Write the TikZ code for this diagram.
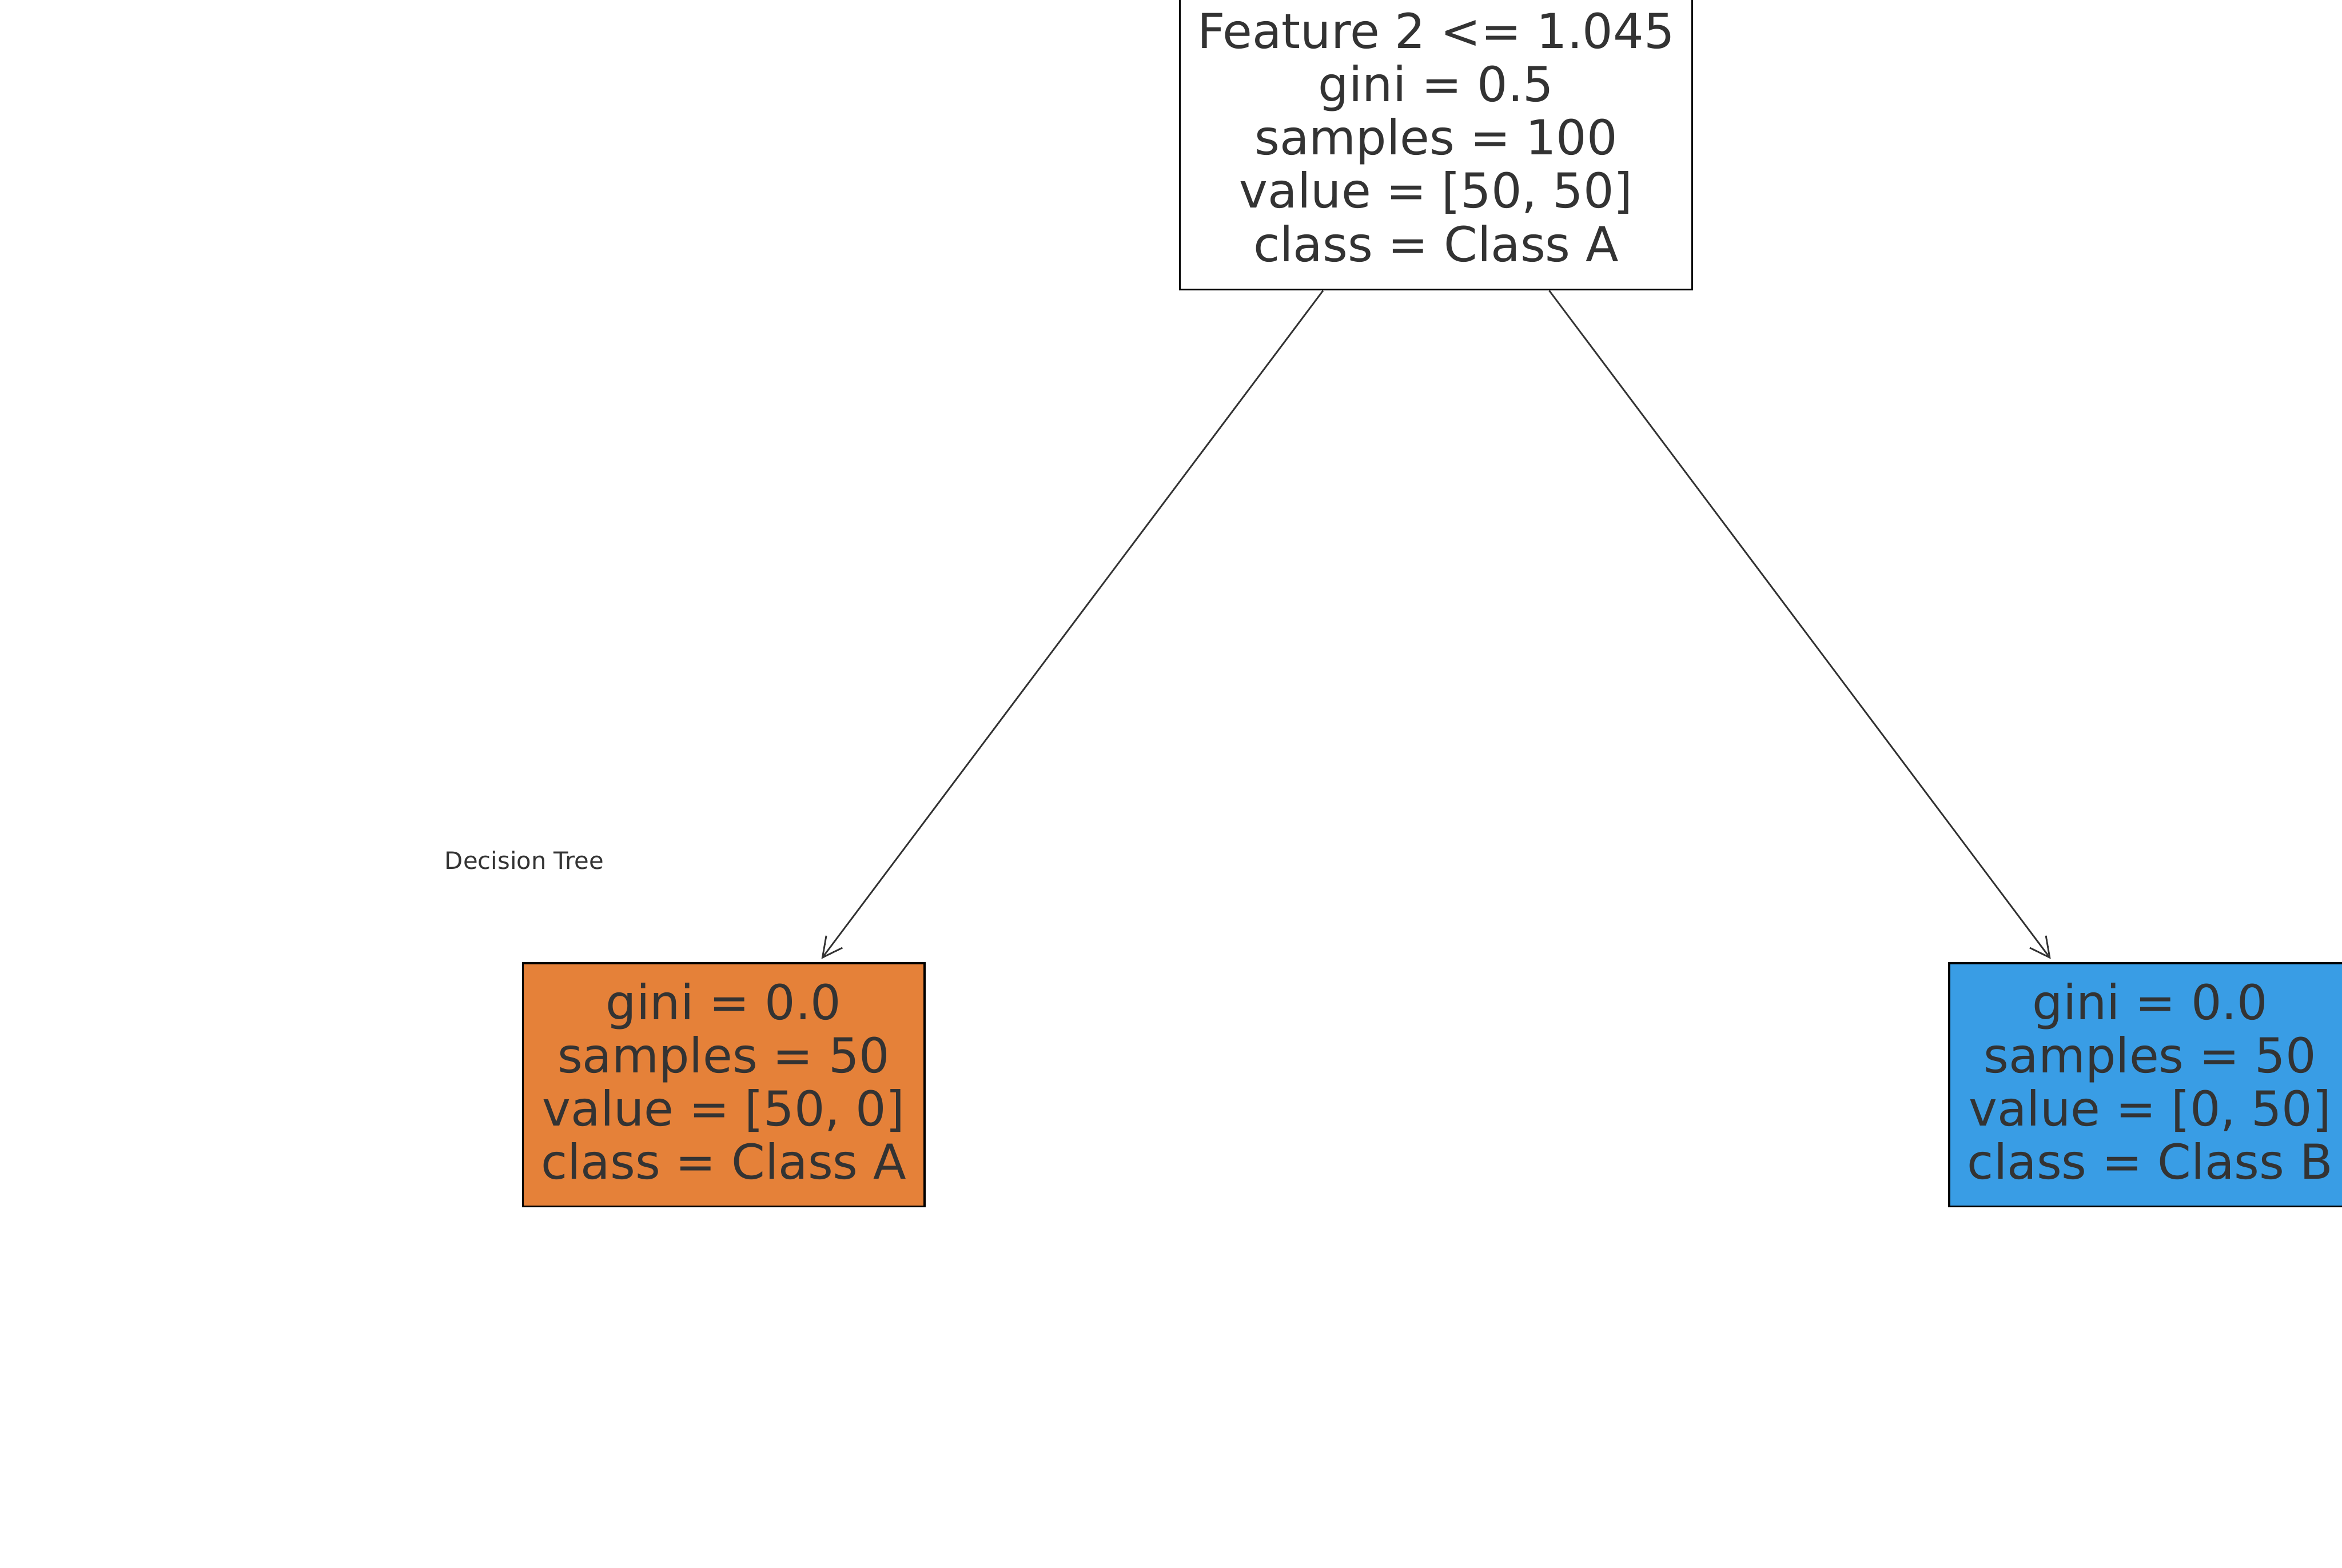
\documentclass[tikz,border=0pt]{standalone}
\usepackage{fontspec}
\setmainfont{DejaVu Sans}
\usetikzlibrary{arrows.meta,calc}
\definecolor{tinta}{HTML}{333333}
\definecolor{claseA}{HTML}{E58139}
\definecolor{claseB}{HTML}{399DE5}

\begin{document}
\begin{tikzpicture}[x=0.012755cm,y=-0.012755cm,
   nodo/.style={draw=black,line width=0.45pt,align=center,text=tinta,inner sep=0pt,
                font=\fontsize{11.7}{12.95}\selectfont},
   raiz/.style={nodo,fill=white,minimum width=4.375cm,minimum height=2.551cm},
   hoja/.style={nodo,minimum width=3.431cm,minimum height=2.079cm},
   rama/.style={draw=tinta,line width=0.4pt,shorten >=1pt,
                -{Straight Barb[length=4.8pt,width=4.9pt]}},
   titulo/.style={text=tinta,font=\fontsize{5.8}{7}\selectfont}]

  % lienzo
  \useasboundingbox (0,0) rectangle (1568,1050);
  \clip (0,0) rectangle (1568,1050);

  % --- raiz ---
  \node[raiz] (raiz) at (961.5,94)
    {\raisebox{-0.9pt}[\height][\depth]{\begin{tabular}{@{}c@{}}Feature 2 <= 1.045\\gini = 0.5\\samples = 100\\value = [50, 50]\\class = Class A\end{tabular}}};

  % --- hojas ---
  \node[hoja,fill=claseA] (hojaA) at (484.5,726.5)
    {\raisebox{-0.9pt}[\height][\depth]{\begin{tabular}{@{}c@{}}gini = 0.0\\samples = 50\\value = [50, 0]\\class = Class A\end{tabular}}};
  \node[hoja,fill=claseB] (hojaB) at (1439.5,726.5)
    {\raisebox{-0.9pt}[\height][\depth]{\begin{tabular}{@{}c@{}}gini = 0.0\\samples = 50\\value = [0, 50]\\class = Class B\end{tabular}}};

  % --- ramas ---
  \draw[rama] ($(raiz.south west)!0.28!(raiz.south east)$) -- ($(hojaA.north west)!0.736!(hojaA.north east)$);
  \draw[rama] ($(raiz.south west)!0.72!(raiz.south east)$) -- ($(hojaB.north west)!0.26!(hojaB.north east)$);

  % --- titulo ---
  \node[titulo] (titulo) at (351,576) {Decision Tree};
\end{tikzpicture}
\end{document}
